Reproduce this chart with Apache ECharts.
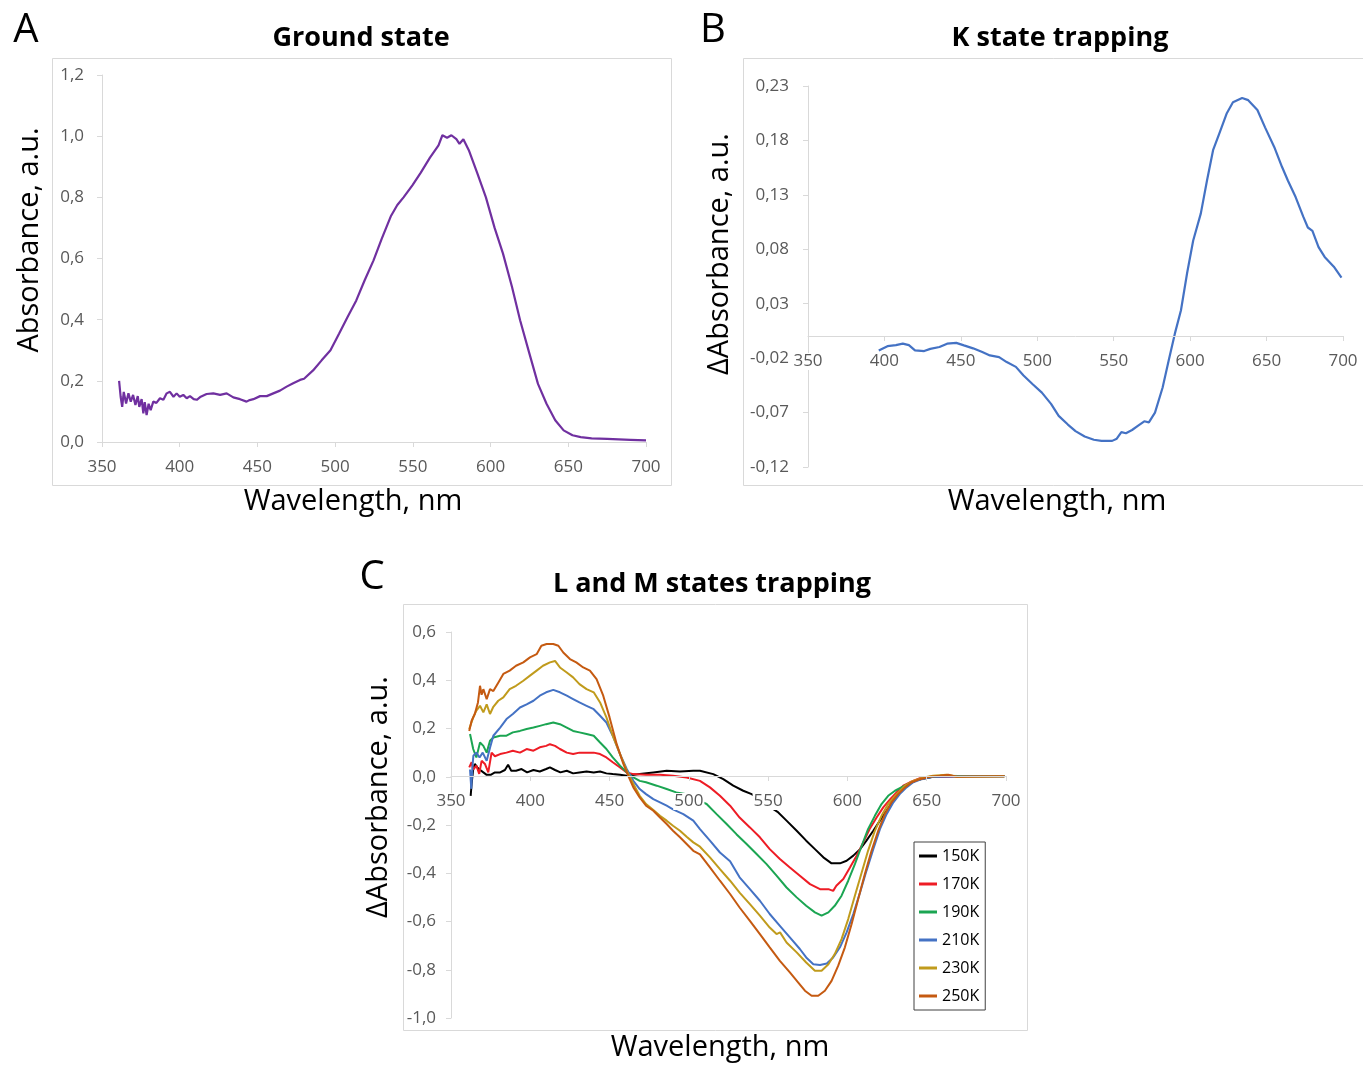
<!DOCTYPE html>
<html>
<head>
<meta charset="utf-8">
<script src="https://cdn.jsdelivr.net/npm/echarts@6/dist/echarts.min.js"></script>
<style>
html, body { margin: 0; padding: 0; background: #fff; }
#chart { width: 1363px; height: 1066px; }
</style>
</head>
<body>
<div id="chart"></div>
<script>
// wavelength (nm) / absorbance pairs
const groundState = [
	[361,0.2],[362,0.148],[363,0.115],[364,0.164],[365.5,0.126],[367,0.159],[368.5,0.132],[370,0.154],
	[371.5,0.121],[373,0.15],[374,0.115],[375.5,0.14],[376.6,0.094],[377.5,0.13],[378.7,0.088],[380,0.125],
	[381.3,0.104],[383,0.132],[385,0.128],[387.3,0.143],[389.5,0.138],[391.6,0.159],[393.7,0.164],[396,0.148],
	[398,0.159],[400,0.148],[402.3,0.154],[404.5,0.143],[406.6,0.15],[409,0.14],[411,0.138],[413.5,0.148],
	[417.3,0.157],[421.6,0.159],[426,0.154],[430.2,0.159],[434.5,0.146],[438.8,0.14],[443,0.132],[445,0.137],
	[447.4,0.14],[451.7,0.15],[456,0.15],[460.2,0.159],[464.5,0.168],[468.8,0.181],[473,0.192],[477.4,0.203],
	[480,0.207],[485.8,0.234],[491.3,0.267],[497,0.3],[502.5,0.354],[508,0.409],[513.6,0.463],[519,0.529],
	[524.7,0.594],[530,0.665],[536,0.74],[540,0.775],[544,0.8],[549.8,0.84],[555,0.88],[561,0.93],
	[566.5,0.97],[569,1.003],[572,0.995],[574.8,1.003],[578,0.99],[580,0.975],[582.5,0.99],[586,0.954],
	[591.5,0.878],[597,0.8],[602.6,0.7],[608,0.616],[613.8,0.507],[619,0.398],[625,0.289],[630.5,0.19],
	[636,0.125],[641.6,0.071],[647,0.038],[652.7,0.022],[658,0.016],[665,0.012],[675,0.01],[690,0.007],[700,0.005]
];

const kState = [
	[396.3,-0.0129],[402,-0.009],[407.5,-0.008],[412,-0.0067],[416,-0.008],[420,-0.0129],[426,-0.0135],[430,-0.0115],
	[436,-0.0098],[441,-0.0067],[447,-0.006],[452,-0.0083],[458,-0.011],[464,-0.0144],[469,-0.0175],[475,-0.019],
	[480,-0.0236],[486,-0.028],[491,-0.036],[497,-0.044],[503,-0.0517],[509,-0.062],[514,-0.073],[520,-0.081],
	[525,-0.087],[531,-0.092],[537,-0.095],[542,-0.096],[549,-0.096],[552,-0.094],[555,-0.088],[558,-0.089],
	[562,-0.086],[566,-0.082],[570,-0.078],[573,-0.079],[577,-0.07],[582,-0.047],[586,-0.022],[590,0.0025],
	[594,0.024],[598,0.058],[602,0.088],[607,0.113],[611,0.143],[615,0.171],[619,0.186],[624,0.205],
	[628,0.215],[634,0.219],[638,0.217],[644,0.208],[649,0.192],[655,0.174],[660,0.156],[664,0.143],
	[669,0.128],[674,0.11],[677,0.1],[680,0.097],[684,0.082],[688,0.073],[694,0.064],[699,0.054]
];

const k150 = [
	[362.4,-0.079],[363,-0.03],[364,0.032],[365,0.053],[366.6,0.039],[368,0.03],[370.4,0.018],[372.5,0.008],
	[375,0.008],[377.7,0.018],[381,0.018],[384,0.028],[386,0.05],[388,0.025],[391,0.025],[394.5,0.032],
	[398,0.018],[402,0.028],[406,0.022],[410,0.032],[412.4,0.039],[415.6,0.028],[419,0.018],[423,0.025],
	[427,0.014],[431,0.018],[435.5,0.022],[440,0.018],[444,0.022],[448,0.014],[452,0.011],[456.6,0.008],
	[460.8,0.004],[469,0.011],[477.6,0.018],[486,0.025],[494.4,0.022],[502.8,0.025],[507,0.025],[515.4,0.011],
	[521.7,-0.01],[528,-0.037],[534.3,-0.058],[539.6,-0.072],[545,-0.095],[550,-0.12],[556.4,-0.148],[561.6,-0.182],
	[568,-0.224],[574,-0.265],[579.5,-0.3],[584.8,-0.334],[590,-0.359],[595.3,-0.359],[599.5,-0.348],[603.7,-0.327],
	[608,-0.3],[612,-0.265],[616.3,-0.224],[620.5,-0.182],[624.7,-0.141],[629,-0.1],[633,-0.065],[637,-0.037],
	[643.6,-0.014],[654,0],[675,0.003],[699,0.003]
];
const k170 = [
	[361.5,0.039],[363,0.06],[364,0.03],[366,0.046],[367.8,0.012],[369.3,0.066],[371.4,0.053],[373.5,0.018],
	[375.6,0.1],[377.7,0.085],[381,0.094],[385,0.1],[389,0.108],[393.5,0.1],[397.7,0.115],[402,0.108],
	[406,0.122],[410,0.128],[412.4,0.135],[415.6,0.128],[418.7,0.115],[423,0.1],[427,0.094],[431,0.1],
	[435.5,0.1],[440,0.1],[444,0.094],[448,0.08],[452,0.06],[456.6,0.039],[460.8,0.018],[465,0.011],
	[473,0.008],[481.8,0.008],[490,0.004],[498.6,-0.003],[507,-0.017],[513.3,-0.044],[519.6,-0.079],[526,-0.12],
	[532,-0.169],[538.5,-0.21],[544.8,-0.251],[551,-0.3],[557.4,-0.341],[563.7,-0.376],[570,-0.41],[576.4,-0.445],
	[582.7,-0.466],[588,-0.466],[591,-0.473],[593,-0.452],[597.4,-0.424],[601.6,-0.376],[605.8,-0.327],[610,-0.272],
	[614,-0.217],[618.4,-0.169],[622.6,-0.127],[627,-0.093],[631,-0.065],[635.2,-0.037],[639.4,-0.023],[645.7,-0.006],
	[654,0],[680,0.002],[699,0.002]
];
const k190 = [
	[362,0.177],[364,0.115],[366,0.08],[368.3,0.142],[370.4,0.128],[372.5,0.1],[374.6,0.149],[376.7,0.163],
	[381,0.17],[385,0.17],[389,0.184],[393.5,0.19],[397.7,0.198],[402,0.204],[406,0.211],[410,0.218],
	[414.5,0.225],[418.7,0.218],[423,0.204],[427,0.19],[431,0.184],[435.5,0.177],[440,0.17],[444,0.142],
	[448,0.115],[452,0.08],[456.6,0.046],[460.8,0.018],[465,-0.003],[469,-0.017],[473,-0.023],[479.7,-0.037],
	[486,-0.051],[492,-0.065],[498.6,-0.072],[505,-0.095],[511.2,-0.113],[517.5,-0.155],[523.8,-0.196],[530,-0.238],
	[536.4,-0.279],[542.7,-0.32],[549,-0.362],[555.3,-0.41],[561.6,-0.459],[568,-0.5],[574,-0.535],[579.5,-0.562],
	[583.7,-0.576],[588,-0.562],[592,-0.535],[596.3,-0.493],[600.5,-0.431],[604.7,-0.362],[609,-0.286],[613,-0.217],
	[617.3,-0.162],[621.5,-0.113],[625.7,-0.079],[630,-0.058],[634,-0.044],[638.4,-0.03],[642.6,-0.017],[648,-0.006],
	[654,0],[660,0.004],[680,0.002],[699,0.002]
];
const k210 = [
	[362,0.03],[362.8,-0.05],[363.5,0.039],[364.1,0.087],[366,0.1],[368,0.08],[370,0.1],[372.5,0.066],
	[374.6,0.12],[376.7,0.17],[381,0.204],[385,0.239],[389,0.26],[393.5,0.287],[397.7,0.3],[402,0.315],
	[406,0.336],[410,0.35],[414.5,0.36],[418.7,0.35],[423,0.336],[427,0.322],[431,0.308],[435.5,0.294],
	[440,0.28],[444,0.253],[448,0.225],[452,0.17],[456.6,0.094],[460.8,0.032],[465,-0.017],[469,-0.051],
	[473,-0.072],[477.6,-0.093],[481.8,-0.106],[486,-0.12],[490,-0.135],[496.5,-0.155],[502.8,-0.182],[507,-0.217],
	[513.3,-0.265],[519.6,-0.314],[526,-0.35],[532,-0.417],[538.5,-0.466],[544.8,-0.514],[551,-0.569],[557.4,-0.618],
	[563.7,-0.666],[570,-0.714],[574,-0.749],[578.5,-0.777],[582.7,-0.78],[587,-0.774],[591,-0.749],[595.3,-0.707],
	[599.5,-0.645],[603.7,-0.569],[608,-0.479],[612,-0.39],[616.3,-0.3],[620.5,-0.217],[624.7,-0.155],[629,-0.106],
	[633,-0.072],[637.3,-0.044],[641.5,-0.023],[646.8,-0.01],[654,0],[680,0.002],[699,0.002]
];
const k230 = [
	[361.5,0.198],[364,0.246],[366,0.274],[368.3,0.294],[370.4,0.267],[372.5,0.3],[374.6,0.26],[376.7,0.29],
	[379.8,0.315],[383,0.329],[387,0.363],[391,0.377],[395.6,0.398],[399.8,0.419],[404,0.44],[408,0.46],
	[412.4,0.474],[415.6,0.48],[418.7,0.453],[423,0.432],[427,0.412],[431,0.384],[435.5,0.363],[440,0.35],
	[444,0.308],[448,0.246],[452,0.17],[456.6,0.094],[460.8,0.025],[465,-0.03],[469,-0.079],[473,-0.113],
	[477.6,-0.138],[481.8,-0.162],[486,-0.182],[490,-0.203],[494.4,-0.224],[498.6,-0.249],[502.8,-0.272],[507,-0.29],
	[513.3,-0.334],[519.6,-0.383],[526,-0.431],[532,-0.48],[538.5,-0.528],[544.8,-0.576],[551,-0.625],[555.3,-0.652],
	[557.5,-0.645],[561.6,-0.687],[568,-0.728],[574,-0.77],[579.5,-0.804],[583.7,-0.804],[588,-0.777],[592,-0.735],
	[596.3,-0.673],[600.5,-0.59],[604.7,-0.493],[609,-0.397],[613,-0.307],[617.3,-0.224],[621.5,-0.162],[625.7,-0.113],
	[631,-0.072],[636.3,-0.037],[641.5,-0.017],[648,-0.003],[654,0.004],[662.5,0.008],[669,0],[699,0.002]
];
const k250 = [
	[361.5,0.19],[363,0.232],[365,0.26],[367,0.308],[368.3,0.377],[369.3,0.34],[370.4,0.363],[372.5,0.322],
	[374.6,0.363],[376.7,0.355],[379.8,0.39],[383,0.426],[387,0.44],[391,0.46],[395.6,0.474],[399.8,0.495],
	[404,0.508],[407,0.543],[410.3,0.55],[414.5,0.55],[417.7,0.543],[420.8,0.515],[425,0.488],[429,0.474],
	[433.4,0.453],[437.6,0.44],[441.8,0.405],[446,0.336],[450,0.246],[454.5,0.135],[458.7,0.053],[461.8,0.004],
	[465,-0.044],[469,-0.086],[473,-0.12],[477.6,-0.141],[481.8,-0.169],[486,-0.196],[490,-0.224],[494.4,-0.251],
	[498.6,-0.279],[502.8,-0.307],[507,-0.322],[513.3,-0.376],[519.6,-0.431],[526,-0.486],[532,-0.542],[538.5,-0.597],
	[544.8,-0.652],[551,-0.707],[557.4,-0.763],[563.7,-0.811],[569,-0.853],[573.2,-0.887],[577.4,-0.908],[581.6,-0.908],
	[585.8,-0.887],[590,-0.846],[594.2,-0.783],[598.4,-0.707],[602.6,-0.611],[606.8,-0.507],[611,-0.403],[615.2,-0.307],
	[619.4,-0.224],[623.6,-0.155],[627.8,-0.106],[632,-0.072],[636.3,-0.044],[640.5,-0.023],[645.7,-0.01],[652,0],
	[658.3,0.004],[663.6,0.008],[669,0],[699,0.002]
];

const tempNames = ['150K', '170K', '190K', '210K', '230K', '250K'];
const tempData = [k150, k170, k190, k210, k230, k250];
const tempColors = ['#000000', '#ee1c25', '#1ba552', '#4472c4', '#c09b1c', '#c55a11'];

const FONT = "'Open Sans', sans-serif";
const axisGray = '#d9d9d9';

const comma = digits => v => v.toFixed(digits).replace('.', ',');

// offset lifts the x axis from the bottom edge up to the zero line
const xAxisFor = (gridIndex, offset) => ({
	type: 'value',
	gridIndex: gridIndex,
	min: 350,
	max: 700,
	interval: 50,
	z: 5,
	position: 'bottom',
	offset: offset,
	axisLine: { show: true, onZero: false, lineStyle: { color: axisGray, width: 1 } },
	axisTick: { show: true, length: 5, lineStyle: { color: axisGray } },
	splitLine: { show: false },
	axisLabel: {
		color: '#595959', fontSize: 17, fontFamily: FONT, margin: 17,
		backgroundColor: '#fff', padding: [0, 1],
		showMinLabel: true, showMaxLabel: true
	}
});

const yAxisFor = (gridIndex, min, max, interval, digits, margin) => ({
	type: 'value',
	gridIndex: gridIndex,
	min: min,
	max: max,
	interval: interval,
	axisLine: { show: true, onZero: false, lineStyle: { color: axisGray, width: 1 } },
	axisTick: { show: true, length: 5, lineStyle: { color: axisGray } },
	splitLine: { show: false },
	axisLabel: {
		color: '#595959', fontSize: 17, fontFamily: FONT, margin: margin,
		formatter: comma(digits), showMinLabel: true, showMaxLabel: true
	}
});

const frame = (x, y, w, h) => ({
	type: 'rect',
	shape: { x: x, y: y, width: w, height: h },
	style: { fill: null, stroke: axisGray, lineWidth: 1 },
	z: -1
});

const label = (text, x, y, size, weight, rotate) => ({
	type: 'text',
	x: x,
	y: y,
	rotation: rotate ? Math.PI / 2 : 0,
	style: {
		text: text,
		fill: '#000',
		font: weight + ' ' + size + 'px ' + FONT,
		align: 'center',
		verticalAlign: 'middle'
	}
});

const chart = echarts.init(document.getElementById('chart'));

let series = [
	{
		name: 'ground', type: 'line', xAxisIndex: 0, yAxisIndex: 0,
		data: groundState, showSymbol: false, animation: false,
		lineStyle: { color: '#7030a0', width: 2.2 }, itemStyle: { color: '#7030a0' }
	},
	{
		name: 'K', type: 'line', xAxisIndex: 1, yAxisIndex: 1,
		data: kState, showSymbol: false, animation: false,
		lineStyle: { color: '#4472c4', width: 2.2 }, itemStyle: { color: '#4472c4' }
	}
];
tempNames.forEach((name, i) => {
	series.push({
		name: name, type: 'line', xAxisIndex: 2, yAxisIndex: 2,
		data: tempData[i], showSymbol: false, animation: false,
		lineStyle: { color: tempColors[i], width: 2 }, itemStyle: { color: tempColors[i] }
	});
});

const option = {
	animation: false,
	backgroundColor: '#fff',
	grid: [
		{ left: 102, top: 75, width: 544, height: 367 },
		{ left: 808, top: 86, width: 535, height: 381 },
		{ left: 451, top: 632, width: 555, height: 386 }
	],
	xAxis: [xAxisFor(0, 0), xAxisFor(1, -131), xAxisFor(2, -242)],
	yAxis: [
		yAxisFor(0, 0, 1.2, 0.2, 1, 18),
		yAxisFor(1, -0.12, 0.23, 0.05, 2, 19),
		yAxisFor(2, -1, 0.6, 0.2, 1, 15)
	],
	legend: {
		data: tempNames,
		orient: 'vertical',
		left: 914,
		top: 842,
		icon: 'rect',
		itemWidth: 18,
		itemHeight: 3,
		itemGap: 12,
		padding: [6, 6, 6, 5],
		borderColor: '#404040',
		borderWidth: 1,
		textStyle: { fontSize: 16, lineHeight: 16, color: '#000', fontFamily: FONT }
	},
	graphic: [
		frame(52.5, 58.5, 619, 427),
		frame(743.5, 58.5, 640, 427),
		frame(403.5, 604.5, 624, 426),
		label('A', 26, 31, 40, 'normal'),
		label('B', 713, 31, 40, 'normal'),
		label('C', 372, 578, 40, 'normal'),
		label('Ground state', 361, 38, 27, 'bold'),
		label('K state trapping', 1060, 38, 27, 'bold'),
		label('L and M states trapping', 712, 584, 27, 'bold'),
		label('Wavelength, nm', 353, 502, 29, 'normal'),
		label('Wavelength, nm', 1057, 502, 29, 'normal'),
		label('Wavelength, nm', 720, 1048, 29, 'normal'),
		label('Absorbance, a.u.', 30, 240, 29, 'normal', true),
		label('ΔAbsorbance, a.u.', 720, 254, 29, 'normal', true),
		label('ΔAbsorbance, a.u.', 379, 797, 29, 'normal', true)
	],
	series: series
};

chart.setOption(option);
</script>
</body>
</html>
